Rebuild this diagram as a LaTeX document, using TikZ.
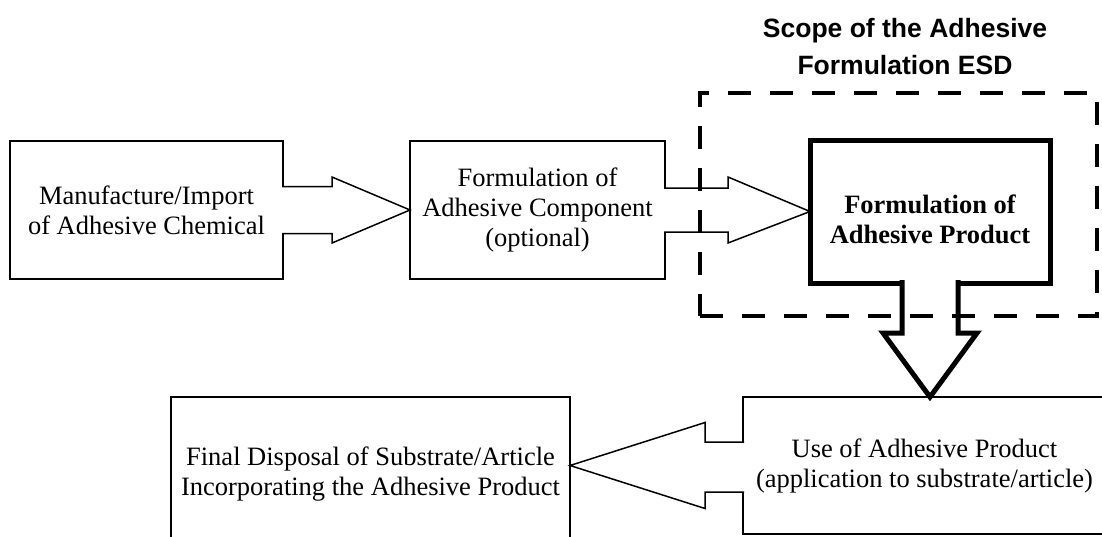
\documentclass[tikz,border=0pt]{standalone}
\usepackage{fontspec}
\setmainfont{Liberation Serif}
\newfontfamily\titlefont{Liberation Sans}
\usetikzlibrary{calc}

\begin{document}
\begin{tikzpicture}[yscale=-1
,boxstyle/.style={draw=black,fill=white,line width=1.5pt,inner sep=0pt,outer sep=0pt,align=center,font=\fontsize{26.5pt}{30pt}\selectfont}
,boldbox/.style={boxstyle,line width=5pt}
,boldtext/.style={inner sep=0pt,align=center,font=\fontsize{26.5pt}{30pt}\selectfont\bfseries}
,scopebox/.style={draw=black,line width=4.5pt,dash pattern=on 23pt off 19pt,inner sep=0pt,outer sep=0pt}
,thinarrow/.style={color=black,fill=white,line width=1.5pt}
,boldarrow/.style={color=black,fill=white,line width=5pt}
]
\useasboundingbox (0pt,0pt) rectangle (1102pt,536pt);
\clip (0pt,0pt) rectangle (1102pt,536pt);
\node[font=\titlefont\bfseries\fontsize{26.5pt}{37pt}\selectfont,align=center] (scopetitle) at (905pt,46.5pt) {Scope of the Adhesive\\Formulation ESD};
\node[boxstyle,minimum width=273pt,minimum height=138pt] (manuf) at (146.5pt,210pt) {Manufacture/Import\\of Adhesive Chemical};
\node[boxstyle,minimum width=255pt,minimum height=138pt] (comp) at (537.5pt,210pt) {Formulation of\\Adhesive Component\\(optional)};
\node[boldbox,minimum width=240pt,minimum height=143pt] (prod) at (930pt,211.5pt) {};
\node[boldtext] (prodtext) at (930pt,219pt) {Formulation of\\Adhesive Product};
\node[boxstyle,minimum width=363pt,minimum height=137pt] (use) at (924.5pt,465.5pt) {Use of Adhesive Product\\(application to substrate/article)};
\node[boxstyle,minimum width=399pt,minimum height=154pt] (disp) at (370.5pt,474pt) {Final Disposal of Substrate/Article\\Incorporating the Adhesive Product};
% block arrows
\draw[thinarrow] ($(manuf.east)+(-1pt,-23.5pt)$) -- ($(manuf.east)+(49pt,-23.5pt)$) -- ($(manuf.east)+(49pt,-33pt)$) -- (comp.west) -- ($(manuf.east)+(49pt,33pt)$) -- ($(manuf.east)+(49pt,23.5pt)$) -- ($(manuf.east)+(-1pt,23.5pt)$);
\draw[thinarrow] ($(comp.east)+(-1pt,-22pt)$) -- ($(comp.east)+(63pt,-22pt)$) -- ($(comp.east)+(63pt,-33pt)$) -- (prod.west) -- ($(comp.east)+(63pt,33pt)$) -- ($(comp.east)+(63pt,22pt)$) -- ($(comp.east)+(-1pt,22pt)$);
\draw[boldarrow] ($(prod.south)+(-28pt,-3pt)$) -- ($(prod.south)+(-28pt,50pt)$) -- ($(prod.south)+(-47pt,50pt)$) -- (prod.south |- use.north) -- ($(prod.south)+(47pt,50pt)$) -- ($(prod.south)+(28pt,50pt)$) -- ($(prod.south)+(28pt,-3pt)$);
\draw[thinarrow] ($(use.west)+(1pt,-23.5pt)$) -- ($(use.west)+(-38pt,-23.5pt)$) -- ($(use.west)+(-38pt,-43pt)$) -- (disp.east |- use.west) -- ($(use.west)+(-38pt,43pt)$) -- ($(use.west)+(-38pt,26.5pt)$) -- ($(use.west)+(1pt,26.5pt)$);
% scope of the ESD
\node[scopebox,minimum width=397pt,minimum height=223pt] (scope) at (898.5pt,204.5pt) {};
\end{tikzpicture}
\end{document}
